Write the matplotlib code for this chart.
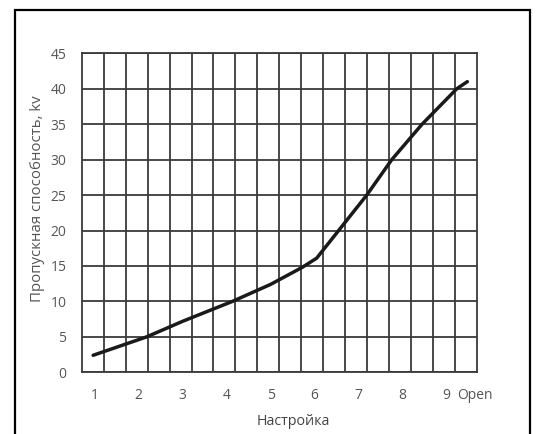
import matplotlib
matplotlib.use("Agg")
import matplotlib.pyplot as plt
from matplotlib.patches import Rectangle

# Data
setting_x = [0.96, 2.18, 3.0, 4.13, 5.0, 5.72, 6.05, 7.19, 7.76, 8.45, 9.24, 9.48]
kv_values = [2.4, 5.0, 7.2, 10.0, 12.4, 14.8, 16.1, 25.0, 30.0, 35.0, 40.0, 41.0]
tick_pos = [1, 2, 3, 4, 5, 6, 7, 8, 9, 9.65]
tick_labels = ["1", "2", "3", "4", "5", "6", "7", "8", "9", "Open"]
y_ticks = [0, 5, 10, 15, 20, 25, 30, 35, 40, 45]

plt.rcParams['font.family'] = ['Open Sans', 'DejaVu Sans']

W, H = 537, 434
fig = plt.figure(figsize=(W / 100, H / 100), dpi=100)
fig.patch.set_facecolor("white")

# outer frame
fig.add_artist(Rectangle((15 / W, -0.02), (530 - 15) / W, 1 - 10 / H + 0.02,
                         transform=fig.transFigure, fill=False,
                         edgecolor="black", linewidth=1.6))

left, right, top, bottom = 81.7, 477.0, 53.3, 372.3
ax = fig.add_axes([left / W, 1 - bottom / H, (right - left) / W, (bottom - top) / H])

ax.set_xlim(0.7, 9.7)
ax.set_ylim(0, 45)

grid_color = "#3a3a3a"
minor_x = [0.7 + 0.5 * k for k in range(1, 18)]
ax.set_xticks(minor_x, minor=True)
ax.set_yticks(y_ticks)
ax.set_xticks(tick_pos)
ax.set_xticklabels(tick_labels)
ax.grid(which="minor", axis="x", color=grid_color, linewidth=1.3)
ax.grid(which="major", axis="y", color=grid_color, linewidth=1.3)
ax.tick_params(which="both", length=0)
ax.tick_params(axis="y", pad=11, labelsize=10, labelcolor="#555555")
ax.tick_params(axis="x", pad=11, labelsize=10, labelcolor="#555555")
for s in ax.spines.values():
    s.set_color(grid_color)
    s.set_linewidth(1.3)

ax.plot(setting_x, kv_values, color="#1a1a1a", linewidth=2.5,
        solid_capstyle="round", solid_joinstyle="round", zorder=5)

ax.set_ylabel("Пропускная способность, kv", fontsize=10.8, color="#555555", va="center")
ax.yaxis.set_label_coords(-0.112, 0.543)
ax.set_xlabel("Настройка", fontsize=10.3, color="#444444", va="center")
ax.xaxis.set_label_coords(0.535, -0.153)

fig.savefig("out.png", dpi=100)
